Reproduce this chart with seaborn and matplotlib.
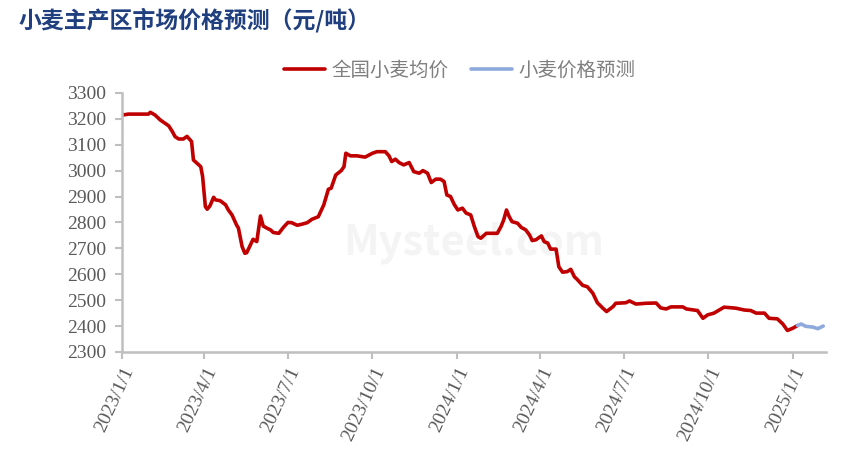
import matplotlib
matplotlib.use("Agg")
import matplotlib.pyplot as plt
from matplotlib import font_manager
import seaborn as sns
import pandas as pd

# ---- data ----
actual_dates = [
    "2023-01-01", "2023-01-03", "2023-01-08", "2023-01-30", "2023-02-01", "2023-02-06",
    "2023-02-12", "2023-02-17", "2023-02-21", "2023-02-25", "2023-02-28", "2023-03-04",
    "2023-03-09", "2023-03-13", "2023-03-18", "2023-03-20", "2023-03-24", "2023-03-28",
    "2023-03-30", "2023-04-02", "2023-04-04", "2023-04-07", "2023-04-11", "2023-04-13",
    "2023-04-18", "2023-04-24", "2023-04-27", "2023-05-01", "2023-05-06", "2023-05-08",
    "2023-05-12", "2023-05-15", "2023-05-17", "2023-05-21", "2023-05-24", "2023-05-28",
    "2023-06-01", "2023-06-04", "2023-06-08", "2023-06-12", "2023-06-15", "2023-06-21",
    "2023-06-26", "2023-07-01", "2023-07-05", "2023-07-11", "2023-07-16", "2023-07-22",
    "2023-07-27", "2023-08-03", "2023-08-09", "2023-08-14", "2023-08-17", "2023-08-22",
    "2023-08-28", "2023-08-31", "2023-09-02", "2023-09-07", "2023-09-14", "2023-09-23",
    "2023-10-01", "2023-10-06", "2023-10-15", "2023-10-19", "2023-10-22", "2023-10-26",
    "2023-10-30", "2023-11-04", "2023-11-10", "2023-11-15", "2023-11-21", "2023-11-25",
    "2023-11-30", "2023-12-04", "2023-12-09", "2023-12-14", "2023-12-18", "2023-12-21",
    "2023-12-25", "2023-12-29", "2024-01-02", "2024-01-07", "2024-01-11", "2024-01-16",
    "2024-01-20", "2024-01-24", "2024-01-27", "2024-02-02", "2024-02-14", "2024-02-18",
    "2024-02-21", "2024-02-24", "2024-02-27", "2024-03-01", "2024-03-07", "2024-03-11",
    "2024-03-16", "2024-03-20", "2024-03-23", "2024-03-27", "2024-04-02", "2024-04-05",
    "2024-04-09", "2024-04-12", "2024-04-18", "2024-04-21", "2024-04-25", "2024-04-30",
    "2024-05-04", "2024-05-08", "2024-05-11", "2024-05-17", "2024-05-22", "2024-05-28",
    "2024-06-02", "2024-06-08", "2024-06-12", "2024-06-19", "2024-06-22", "2024-07-03",
    "2024-07-07", "2024-07-14", "2024-07-25", "2024-08-05", "2024-08-10", "2024-08-16",
    "2024-08-21", "2024-09-03", "2024-09-07", "2024-09-19", "2024-09-25", "2024-09-30",
    "2024-10-07", "2024-10-18", "2024-10-31", "2024-11-09", "2024-11-16", "2024-11-22",
    "2024-12-01", "2024-12-06", "2024-12-15", "2024-12-21", "2024-12-26", "2025-01-01",
    "2025-01-06",
]
actual_values = [
    3220, 3215, 3218, 3218, 3225, 3215,
    3195, 3183, 3173, 3151, 3131, 3122,
    3122, 3132, 3112, 3041, 3028, 3015,
    2977, 2861, 2851, 2864, 2897, 2887,
    2884, 2868, 2848, 2829, 2790, 2778,
    2707, 2681, 2683, 2713, 2735, 2726,
    2825, 2786, 2778, 2771, 2761, 2758,
    2781, 2800, 2799, 2789, 2793, 2799,
    2812, 2822, 2868, 2928, 2932, 2983,
    3000, 3015, 3067, 3057, 3057, 3052,
    3067, 3073, 3073, 3057, 3035, 3044,
    3031, 3022, 3031, 2996, 2990, 3000,
    2990, 2954, 2967, 2967, 2958, 2906,
    2900, 2870, 2848, 2855, 2836, 2829,
    2784, 2745, 2739, 2758, 2758, 2784,
    2810, 2848, 2822, 2803, 2797, 2781,
    2771, 2752, 2730, 2733, 2748, 2726,
    2720, 2697, 2697, 2629, 2608, 2610,
    2619, 2590, 2580, 2557, 2552, 2527,
    2490, 2469, 2456, 2475, 2488, 2490,
    2497, 2485, 2488, 2489, 2470, 2466,
    2474, 2474, 2466, 2460, 2430, 2443,
    2450, 2473, 2469, 2462, 2460, 2450,
    2450, 2430, 2428, 2408, 2383, 2392,
    2402,
]
forecast_dates = ["2025-01-06", "2025-01-10", "2025-01-15", "2025-01-23", "2025-01-28", "2025-02-03"]
forecast_values = [2402, 2408, 2399, 2396, 2390, 2400]

tick_dates = ["2023-01-01", "2023-04-01", "2023-07-01", "2023-10-01", "2024-01-01",
              "2024-04-01", "2024-07-01", "2024-10-01", "2025-01-01"]
tick_labels = ["2023/1/1", "2023/4/1", "2023/7/1", "2023/10/1", "2024/1/1",
               "2024/4/1", "2024/7/1", "2024/10/1", "2025/1/1"]
y_ticks = list(range(2300, 3301, 100))

title = "小麦主产区市场价格预测（元/吨）"
name_actual = "全国小麦均价"
name_forecast = "小麦价格预测"

# ---- build frame ----
df = pd.concat([
    pd.DataFrame({"date": pd.to_datetime(actual_dates), "value": actual_values, "series": name_actual}),
    pd.DataFrame({"date": pd.to_datetime(forecast_dates), "value": forecast_values, "series": name_forecast}),
], ignore_index=True)

sns.set_theme(style="white")
plt.rcParams["font.family"] = ["Noto Sans CJK SC", "DejaVu Sans"]

# serif font for tick numbers
serif_path = font_manager.findfont(font_manager.FontProperties(family="Liberation Serif"))
tick_fp = font_manager.FontProperties(fname=serif_path, size=14)

fig = plt.figure(figsize=(8.64, 4.53), dpi=100)
ax = fig.add_axes([0.141, 0.223, 0.815, 0.572])

# faint watermark
ax.text(0.5, 0.42, "Mysteel.com", transform=ax.transAxes, fontsize=30, fontweight="bold",
        color="#F4F4F4", ha="center", va="center", zorder=0)

sns.lineplot(data=df, x="date", y="value", hue="series",
             palette={name_actual: "#C00000", name_forecast: "#8EA9DB"},
             linewidth=2.6, ax=ax, legend=True, sort=False, estimator=None)

ax.set_xlim(pd.Timestamp("2023-01-01"), pd.Timestamp("2025-02-06"))
ax.set_ylim(2300, 3300)
ax.set_xlabel("")
ax.set_ylabel("")

ax.set_yticks(y_ticks)
ax.set_yticklabels([str(v) for v in y_ticks], fontproperties=tick_fp, color="#595959")
ax.set_xticks(pd.to_datetime(tick_dates))
ax.set_xticklabels(tick_labels, rotation=65, ha="right", rotation_mode="anchor",
                   fontproperties=tick_fp, color="#595959")

for s in ["top", "right"]:
    ax.spines[s].set_visible(False)
for s in ["left", "bottom"]:
    ax.spines[s].set_color("#BFBFBF")
    ax.spines[s].set_linewidth(1.8)
ax.tick_params(axis="both", which="major", direction="out", length=5, width=1.5,
               color="#BFBFBF", left=True, bottom=True)
ax.tick_params(axis="y", pad=6)
ax.tick_params(axis="x", pad=4)

leg = ax.legend(loc="lower center", bbox_to_anchor=(0.48, 1.0), ncol=2, frameon=False,
                fontsize=14, handlelength=2.1, handletextpad=0.3, columnspacing=1.2,
                borderaxespad=0.2)
for t in leg.get_texts():
    t.set_color("#7F7F7F")
for line in leg.get_lines():
    line.set_linewidth(2.6)

fig.text(0.022, 0.956, title, fontsize=16.5, fontweight="bold", color="#1F3F7F",
         ha="left", va="center")

fig.savefig("out.png", dpi=100)
